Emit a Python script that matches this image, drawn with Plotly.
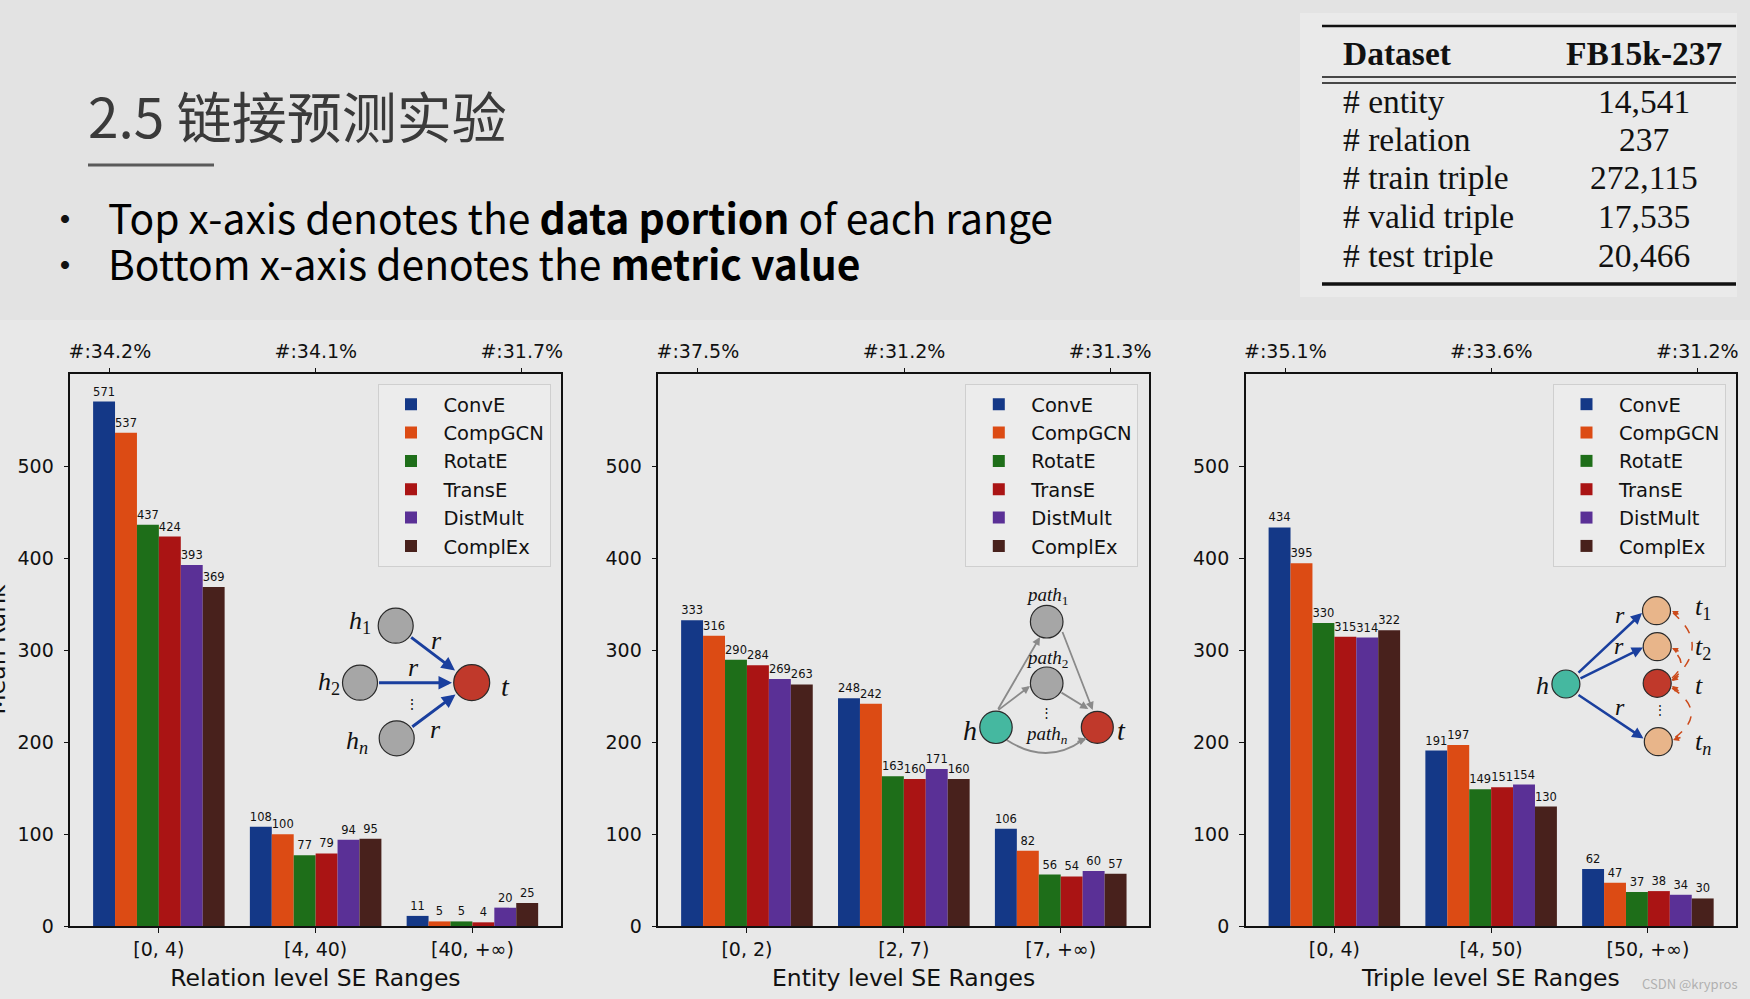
import plotly.graph_objects as go

W, H = 1750, 999

# ---------------- data ----------------
models = ["ConvE", "CompGCN", "RotatE", "TransE", "DistMult", "ComplEx"]
colors = ["#143887", "#dc4b14", "#1e6e19", "#aa1414", "#5a3096", "#48211c"]

rel_ranges = ["[0, 4)", "[4, 40)", "[40, +∞)"]
ent_ranges = ["[0, 2)", "[2, 7)", "[7, +∞)"]
tri_ranges = ["[0, 4)", "[4, 50)", "[50, +∞)"]

rel_portion = ["#:34.2%", "#:34.1%", "#:31.7%"]
ent_portion = ["#:37.5%", "#:31.2%", "#:31.3%"]
tri_portion = ["#:35.1%", "#:33.6%", "#:31.2%"]

rel_conve = [571, 108, 11]
rel_compgcn = [537, 100, 5]
rel_rotate = [437, 77, 5]
rel_transe = [424, 79, 4]
rel_distmult = [393, 94, 20]
rel_complex = [369, 95, 25]

ent_conve = [333, 248, 106]
ent_compgcn = [316, 242, 82]
ent_rotate = [290, 163, 56]
ent_transe = [284, 160, 54]
ent_distmult = [269, 171, 60]
ent_complex = [263, 160, 57]

tri_conve = [434, 191, 62]
tri_compgcn = [395, 197, 47]
tri_rotate = [330, 149, 37]
tri_transe = [315, 151, 38]
tri_distmult = [314, 154, 34]
tri_complex = [322, 130, 30]

x_titles = ["Relation level SE Ranges", "Entity level SE Ranges", "Triple level SE Ranges"]
y_title = "Mean Rank"
y_ticks = [0, 100, 200, 300, 400, 500]

table_keys = ["# entity", "# relation", "# train triple", "# valid triple", "# test triple"]
table_vals = ["14,541", "237", "272,115", "17,535", "20,466"]

title_text = "2.5 链接预测实验"
bullet_lines = ["Top x-axis denotes the <b>data portion</b> of each range",
                "Bottom x-axis denotes the <b>metric value</b>"]

# ---------------- helpers ----------------
def X(p):
    return p / W

def Y(p):
    return 1 - p / H

panels = [
    dict(cats=rel_ranges, top=rel_portion,
         vals=[rel_conve, rel_compgcn, rel_rotate, rel_transe, rel_distmult, rel_complex],
         dom=(70.3, 560.5)),
    dict(cats=ent_ranges, top=ent_portion,
         vals=[ent_conve, ent_compgcn, ent_rotate, ent_transe, ent_distmult, ent_complex],
         dom=(658.3, 1148.9)),
    dict(cats=tri_ranges, top=tri_portion,
         vals=[tri_conve, tri_compgcn, tri_rotate, tri_transe, tri_distmult, tri_complex],
         dom=(1245.8, 1736.0)),
]

TICKFONT = dict(family="DejaVu Sans", size=19, color="#111111")
fig = go.Figure()
layout = dict(
    width=W, height=H, margin=dict(l=0, r=0, t=0, b=0, autoexpand=False),
    paper_bgcolor="#e8e8e8", plot_bgcolor="rgba(0,0,0,0)",
    barmode="group", bargap=0.161, bargroupgap=0,
    showlegend=True, hovermode=False,
)
ydom = [Y(926), Y(374)]
legend_right = [550.5, 1138.3, 1726.0]

for i, p in enumerate(panels):
    bx = "x" if i == 0 else f"x{2*i+1}"
    tx = f"x{2*i+2}"
    yy = "y" if i == 0 else f"y{i+1}"
    bkey = "xaxis" if i == 0 else f"xaxis{2*i+1}"
    tkey = f"xaxis{2*i+2}"
    ykey = "yaxis" if i == 0 else f"yaxis{i+1}"
    lkey = "legend" if i == 0 else f"legend{i+1}"
    for m, c, v in zip(models, colors, p["vals"]):
        fig.add_trace(go.Bar(
            x=[0, 1, 2], y=v, name=m, marker=dict(color=c, line=dict(width=0)),
            xaxis=bx, yaxis=yy, legend=lkey, legendgroup=f"{lkey}-{m}",
            text=v, textposition="outside", constraintext="none",
            textfont=dict(family="DejaVu Sans", size=11.5, color="#111111"),
            cliponaxis=False,
        ))
    # invisible helper so the top (data-portion) axis is rendered
    fig.add_trace(go.Scatter(x=[0, 1, 2], y=[0, 0, 0], xaxis=tx, yaxis=yy, mode="markers",
                             marker=dict(opacity=0), showlegend=False, hoverinfo="skip"))
    layout[bkey] = dict(
        domain=[X(p["dom"][0]), X(p["dom"][1])], anchor=yy, range=[-0.565, 2.562],
        tickvals=[0, 1, 2], ticktext=p["cats"], ticks="outside", ticklen=5, tickwidth=1.3,
        tickcolor="#111", showline=True, mirror=True, linecolor="#111", linewidth=1.5,
        showgrid=False, zeroline=False, tickfont=TICKFONT, ticklabelstandoff=0, automargin=False,
        title=dict(text=x_titles[i], font=dict(family="DejaVu Sans", size=23.5, color="#111"),
                   standoff=11),
    )
    layout[tkey] = dict(
        overlaying=bx, anchor=yy, side="top", range=[-0.192, 2.188],
        tickvals=[0, 1, 2], ticktext=p["top"], ticks="outside", ticklen=5, tickwidth=1.3,
        tickcolor="#111", showline=False, showgrid=False, zeroline=False, tickfont=TICKFONT,
        ticklabelstandoff=2, automargin=False,
    )
    layout[ykey] = dict(
        domain=ydom, anchor=bx, range=[0, 601], tickvals=y_ticks, ticks="outside",
        ticklen=5, tickwidth=1.3, tickcolor="#111", showline=True, mirror=True,
        linecolor="#111", linewidth=1.5, showgrid=False, zeroline=False, tickfont=TICKFONT,
        ticklabelstandoff=6, automargin=False,
    )
    layout[lkey] = dict(
        x=X(legend_right[i]), xanchor="right", y=Y(384), yanchor="top",
        bgcolor="#ececec", bordercolor="#cfcfcf", borderwidth=1,
        font=dict(family="DejaVu Sans", size=19.5, color="#111"),
        tracegroupgap=3, traceorder="normal", itemwidth=55,
    )

fig.update_layout(**layout)

shapes = []
ann = []

# y-axis title of the first panel (partly cut off at the page edge, as in the slide)
ann.append(dict(text=y_title, x=X(-4), y=Y(649.5), xref="paper", yref="paper", xanchor="center",
                yanchor="middle", textangle=-90, showarrow=False,
                font=dict(family="DejaVu Sans", size=23.5, color="#111")))

# backgrounds
shapes.append(dict(type="rect", xref="paper", yref="paper", x0=0, x1=1, y0=Y(320), y1=1,
                   fillcolor="#e3e3e3", line=dict(width=0), layer="below"))
shapes.append(dict(type="rect", xref="paper", yref="paper", x0=X(1300), x1=X(1737), y0=Y(297), y1=Y(13),
                   fillcolor="#eaeaea", line=dict(width=0), layer="below"))

# title
ann.append(dict(text=title_text, x=X(86), y=Y(114), xref="paper", yref="paper", xanchor="left",
                yanchor="middle", showarrow=False,
                font=dict(family="Noto Sans CJK SC", size=55, color="#3a3a3a")))
shapes.append(dict(type="line", xref="paper", yref="paper", x0=X(88), x1=X(214), y0=Y(165), y1=Y(165),
                   line=dict(color="#5a5a5a", width=3)))
for k, (line, yc) in enumerate(zip(bullet_lines, [216, 262])):
    ann.append(dict(text="•", x=X(64.5), y=Y(yc), xref="paper", yref="paper", xanchor="center",
                    yanchor="middle", showarrow=False,
                    font=dict(family="Noto Sans CJK SC", size=38, color="#111")))
    ann.append(dict(text=line, x=X(106), y=Y(yc), xref="paper", yref="paper", xanchor="left",
                    yanchor="middle", showarrow=False,
                    font=dict(family="Noto Sans CJK SC", size=40.8, color="#000")))

# table
SERIF = "Liberation Serif"
for yl, wd in [(26, 2.5), (77, 1.5), (83, 1.5), (284, 3.5)]:
    shapes.append(dict(type="line", xref="paper", yref="paper", x0=X(1322), x1=X(1736), y0=Y(yl), y1=Y(yl),
                       line=dict(color="#111", width=wd)))
ann.append(dict(text="<b>Dataset</b>", x=X(1341), y=Y(53), xref="paper", yref="paper", xanchor="left",
                yanchor="middle", showarrow=False, font=dict(family=SERIF, size=33.5, color="#111")))
ann.append(dict(text="<b>FB15k-237</b>", x=X(1644), y=Y(53), xref="paper", yref="paper", xanchor="center",
                yanchor="middle", showarrow=False, font=dict(family=SERIF, size=33.5, color="#111")))
for k, (kk, vv) in enumerate(zip(table_keys, table_vals)):
    yc = [101.7, 140, 178, 216, 255][k]
    ann.append(dict(text=kk, x=X(1341), y=Y(yc), xref="paper", yref="paper", xanchor="left",
                    yanchor="middle", showarrow=False, font=dict(family=SERIF, size=33.5, color="#111")))
    ann.append(dict(text=vv, x=X(1644), y=Y(yc), xref="paper", yref="paper", xanchor="center",
                    yanchor="middle", showarrow=False, font=dict(family=SERIF, size=33.5, color="#111")))

# ---------- inset diagrams (decorative) ----------
def circle(cx, cy, r, fill):
    shapes.append(dict(type="circle", xref="paper", yref="paper", x0=X(cx - r), x1=X(cx + r),
                       y0=Y(cy + r), y1=Y(cy - r), fillcolor=fill, line=dict(color="#2a2a2a", width=1.2)))

def label(txt, cx, cy, size=26):
    ann.append(dict(text=txt, x=X(cx), y=Y(cy), xref="paper", yref="paper", xanchor="center",
                    yanchor="middle", showarrow=False, font=dict(family=SERIF, size=size, color="#111")))

def arrow(x0, y0, x1, y1, color, width, size=1.0, head=2):
    ann.append(dict(text=" ", x=X(x1), y=Y(y1), xref="paper", yref="paper", ax=x0 - x1, ay=y0 - y1,
                    axref="pixel", ayref="pixel", showarrow=True, arrowhead=head, arrowsize=size,
                    arrowwidth=width, arrowcolor=color, standoff=0, startstandoff=0,
                    font=dict(size=1)))

def qpath(x0, y0, cx, cy, x1, y1, color, width, dash="solid"):
    shapes.append(dict(type="path", xref="paper", yref="paper",
                       path=f"M {X(x0)},{Y(y0)} Q {X(cx)},{Y(cy)} {X(x1)},{Y(y1)}",
                       line=dict(color=color, width=width, dash=dash)))

GRAY, RED, TEAL, TAN, BLUE = "#a6a6a6", "#c0392b", "#45b8a0", "#e8b58a", "#1a3f9e"

# diagram 1
arrow(409.7, 636.2, 455.0, 670.5, BLUE, 3, 0.9)
arrow(377.5, 682.7, 452.0, 682.7, BLUE, 3, 0.9)
arrow(410.8, 727.9, 455.5, 694.5, BLUE, 3, 0.9)
circle(395.7, 625.7, 17.5, GRAY)
circle(360.0, 682.7, 17.5, GRAY)
circle(396.7, 738.3, 17.5, GRAY)
circle(471.7, 682.7, 18, RED)
label("<i>h</i><sub>1</sub>", 360, 622)
label("<i>h</i><sub>2</sub>", 329, 683)
label("<i>h</i><sub><i>n</i></sub>", 357, 742)
label("<i>t</i>", 505, 686, 28)
label("<i>r</i>", 436, 640)
label("<i>r</i>", 413, 667)
label("<i>r</i>", 435, 729)
label("⋮", 412, 704, 14)

# diagram 2
AG = "#8a8a8a"
arrow(997, 711, 1040, 637, AG, 1.8, 0.9)
arrow(997, 711, 1030, 686, AG, 1.8, 0.9)
arrow(1061.7, 630, 1092.7, 710, AG, 1.8, 0.9)
arrow(1060, 691.7, 1088.3, 709, AG, 1.8, 0.9)
qpath(1006.7, 740, 1046.7, 766, 1083, 740, AG, 1.8)
arrow(1076, 742.5, 1086.7, 738.3, AG, 1.8, 0.9)
circle(1046.7, 621.7, 16.3, GRAY)
circle(1046.7, 683.3, 16.3, GRAY)
circle(996.0, 727.3, 16.2, TEAL)
circle(1097.3, 727.3, 16.0, RED)
label("<i>path</i><sub>1</sub>", 1046.7, 596, 19)
label("<i>path</i><sub>2</sub>", 1046.7, 659, 19)
label("<i>path</i><sub><i>n</i></sub>", 1046.7, 735, 19)
label("<i>h</i>", 970, 730, 28)
label("<i>t</i>", 1121.7, 730, 28)
label("⋮", 1046.7, 712, 13)

# diagram 3
OR = "#cc4a1a"
arrow(1577, 674, 1642, 613, BLUE, 2.5, 0.9)
arrow(1579, 679, 1643, 647.5, BLUE, 2.5, 0.9)
arrow(1577, 694, 1643.5, 738.5, BLUE, 2.5, 0.9)
qpath(1672, 680, 1712, 646, 1673, 613, OR, 1.5, "dash")
qpath(1672, 678, 1690, 663, 1672, 650, OR, 1.5, "dash")
qpath(1672, 688, 1710, 713, 1673, 739, OR, 1.5, "dash")
arrow(1680, 615, 1672, 611, OR, 1.5, 0.8)
arrow(1680, 652, 1672, 648, OR, 1.5, 0.8)
arrow(1682, 737, 1673, 740, OR, 1.5, 0.8)
arrow(1680, 675, 1672, 681, OR, 1.5, 0.8)
arrow(1680, 692, 1672, 686, OR, 1.5, 0.8)
circle(1565.9, 684.0, 14, TEAL)
circle(1656.5, 610.7, 14, TAN)
circle(1657.2, 646.7, 14, TAN)
circle(1657.2, 683.3, 14, RED)
circle(1658.3, 741.7, 14, TAN)
label("<i>h</i>", 1542, 685, 26)
label("<i>t</i><sub>1</sub>", 1702.7, 608, 26)
label("<i>t</i><sub>2</sub>", 1702.7, 648, 26)
label("<i>t</i>", 1699, 685, 26)
label("<i>t</i><sub><i>n</i></sub>", 1702.7, 743, 26)
label("<i>r</i>", 1619.5, 615, 24)
label("<i>r</i>", 1619, 646, 24)
label("<i>r</i>", 1619.5, 707, 24)
label("⋮", 1660, 710, 12)

# watermark
ann.append(dict(text="CSDN @krypros", x=X(1690), y=Y(983), xref="paper", yref="paper", xanchor="center",
                yanchor="middle", showarrow=False,
                font=dict(family="Noto Sans CJK SC", size=13, color="#b0b0b0")))

fig.update_layout(shapes=shapes, annotations=ann)
fig.write_html("out.html", config={"displayModeBar": False},
               post_script="document.body.style.margin='0px';document.body.style.overflow='hidden';")
